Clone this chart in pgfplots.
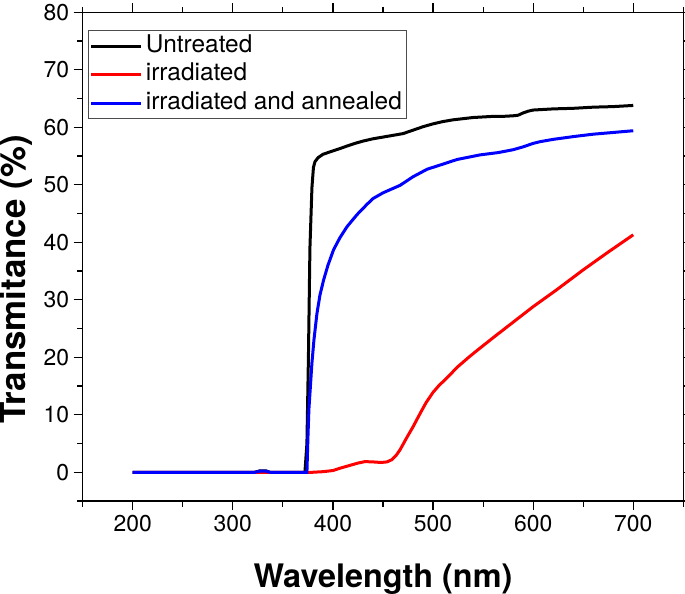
\documentclass[border=0pt]{standalone}
\usepackage{pgfplots}
\pgfplotsset{compat=1.18}
\usepackage{fontspec}
\setmainfont{TeX Gyre Heros}
\begin{document}
\begin{tikzpicture}
\begin{axis}[
  scale only axis=true,
  width=600.6bp, height=488.7bp,
  xmin=150, xmax=750, ymin=-5, ymax=80,
  xtick={200,300,...,700},
  minor xtick={150,250,...,750},
  ytick={0,10,...,80},
  minor ytick={-5,5,...,75},
  tick align=outside,
  tick pos=both,
  xticklabel pos=lower, yticklabel pos=left,
  major tick length=9bp, minor tick length=5.5bp,
  every tick/.style={black, line width=1.2bp},
  axis line style={line width=1.3bp},
  /pgf/number format/assume math mode=true,
  ticklabel style={font=\fontsize{23}{27}\selectfont},
  xticklabel style={yshift=-2bp},
  yticklabel style={xshift=-1bp},
  xlabel={\textbf{Wavelength (nm)}},
  ylabel={\textbf{Transmitance (\%)}},
  xlabel style={font=\fontsize{32.5}{38}\selectfont, at={(axis description cs:0.5,-0.176)}, anchor=base},
  ylabel style={font=\fontsize{35}{40}\selectfont, at={(axis description cs:-0.0945,0.453)}, anchor=base},
  legend cell align=left,
  legend style={at={(axis description cs:0.0088,0.964)}, anchor=north west,
    draw=black!70, line width=0.8bp, inner sep=1.5bp,
    font=\fontsize{24.5}{29}\selectfont, row sep=0bp,
    nodes={inner sep=3bp, text height=17.5bp, text depth=5bp}},
  legend image code/.code={\draw[#1, line width=3bp] (0bp,0bp) -- (50bp,0bp);},
]
\addplot[black, line width=3bp] coordinates {
(200,0) (250,0) (300,0) (322,0) (327,0.25) (333,0.25) (337,0) (372,0) (374,5) (375.5,20) (377,39) (379,49.5) (380.5,53) (382,54) (385,54.7) (390,55.3) (400,55.9) (407,56.3) (415,56.8) (422,57.2) (430,57.6) (440,58.0) (450,58.3) (460,58.6) (470,58.9) (480,59.5) (490,60.1) (500,60.6) (510,61.0) (520,61.3) (530,61.5) (540,61.7) (550,61.8) (560,61.9) (570,61.9) (580,62.0) (585,62.1) (590,62.5) (595,62.8) (600,63.0) (610,63.1) (620,63.2) (640,63.3) (660,63.5) (680,63.6) (700,63.8)
};
\addlegendentry{Untreated}
\addplot[red, line width=3bp] coordinates {
(200,0) (300,0) (372,0) (380,0) (390,0.1) (400,0.3) (407,0.7) (415,1.1) (425,1.6) (432,1.85) (440,1.8) (448,1.7) (454,1.8) (459,2.2) (463,2.9) (467,3.9) (474,6.1) (480,7.9) (487,10.2) (493,12.1) (500,13.9) (506,15.1) (512,16.1) (525,18.4) (537,20.2) (547,21.6) (560,23.4) (580,26.1) (600,28.8) (624,31.8) (650,35.2) (675,38.3) (700,41.3)
};
\addlegendentry{irradiated}
\addplot[blue, line width=3bp] coordinates {
(200,0) (250,0) (300,0) (322,0) (327,0.2) (333,0.2) (337,0) (374,0) (375,6) (376,11) (377.5,15) (379,19) (381,23) (384,27.6) (387,30.8) (390.6,33.4) (395,36) (400.6,38.7) (407,40.8) (414,42.7) (424,44.8) (434,46.6) (440,47.6) (450,48.6) (467,49.9) (480,51.4) (494,52.7) (510,53.6) (524,54.4) (547,55.2) (565,55.6) (580,56.1) (590,56.6) (600,57.2) (607,57.5) (620,57.9) (641,58.4) (660,58.8) (680,59.1) (700,59.4)
};
\addlegendentry{irradiated and annealed}
\end{axis}
\pgfresetboundingbox
\path (-82.7bp,-93bp) rectangle (602.3bp,501bp);
\end{tikzpicture}
\end{document}
